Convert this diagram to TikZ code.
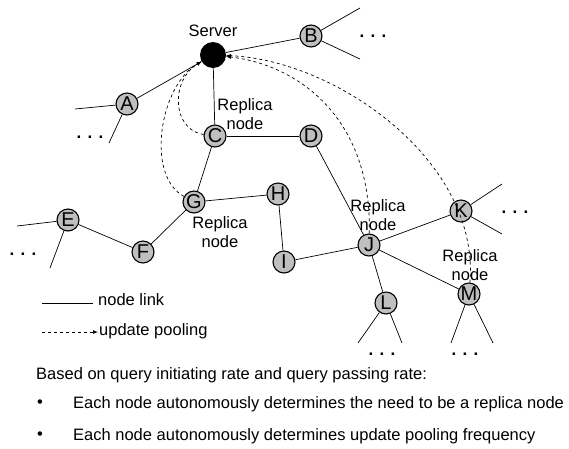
\documentclass[tikz,border=0pt]{standalone}
\usepackage{fontspec}
\setmainfont{Liberation Sans}
\begin{document}
\begin{tikzpicture}[x=1pt, y=-1pt,
    every node/.style={inner sep=0pt},
    peer/.style={circle, draw, fill=black!25, line width=1.1pt, minimum size=22pt, font=\fontsize{20}{20}\selectfont},
    lbl/.style={align=center, font=\fontsize{16.5}{19}\selectfont},
    more/.style={font=\fontsize{17}{17}\selectfont\bfseries},
    link/.style={line width=0.7pt},
    pool/.style={dashed, line width=0.7pt, -latex}]
    \useasboundingbox (0,0) rectangle (569,448);

    \node [circle, fill=black, minimum size=26pt] (srv) at (213,55) {};
    \node [lbl] (srvlbl) at (213,31) {Server};

    \node [peer] (A) at (127,104) {A};
    \node [peer] (B) at (311,36) {B};
    \node [peer] (C) at (215,136) {C};
    \node [peer] (D) at (311,136) {D};
    \node [peer] (E) at (68,220) {E};
    \node [peer] (F) at (143,252) {F};
    \node [peer] (G) at (194,202) {G};
    \node [peer] (H) at (278,194) {H};
    \node [peer] (I) at (284,262) {I};
    \node [peer] (J) at (369,245) {J};
    \node [peer] (K) at (461,211) {K};
    \node [peer] (L) at (386,303) {L};
    \node [peer] (M) at (469,294) {M};

    \node [lbl] (repC) at (245,114) {Replica\\node};
    \node [lbl] (repG) at (220,232) {Replica\\node};
    \node [lbl] (repJ) at (378,215) {Replica\\node};
    \node [lbl] (repM) at (470,265) {Replica\\node};

    \node [more] (dA) at (90,137) {. . .};
    \node [more] (dB) at (373,36) {. . .};
    \node [more] (dE) at (23,254) {. . .};
    \node [more] (dK) at (515,212) {. . .};
    \node [more] (dL) at (382,354) {. . .};
    \node [more] (dM) at (465,354) {. . .};

    \coordinate (a1) at (75,109);
    \coordinate (a2) at (109,143);
    \coordinate (b1) at (360,8);
    \coordinate (b2) at (360,59);
    \coordinate (e1) at (17,226);
    \coordinate (e2) at (50,268);
    \coordinate (k1) at (502,184);
    \coordinate (k2) at (502,234);
    \coordinate (l1) at (358,343);
    \coordinate (l2) at (402,343);
    \coordinate (m1) at (451,343);
    \coordinate (m2) at (493,343);

    \draw [link] (srv) -- (A);
    \draw [link] (srv) -- (B);
    \draw [link] (srv) -- (C);
    \draw [link] (C) -- (D);
    \draw [link] (C) -- (G);
    \draw [link] (G) -- (H);
    \draw [link] (G) -- (F);
    \draw [link] (F) -- (E);
    \draw [link] (H) -- (I);
    \draw [link] (I) -- (J);
    \draw [link] (D) -- (J);
    \draw [link] (J) -- (K);
    \draw [link] (J) -- (M);
    \draw [link] (J) -- (L);
    \draw [link] (A) -- (a1);
    \draw [link] (A) -- (a2);
    \draw [link] (B) -- (b1);
    \draw [link] (B) -- (b2);
    \draw [link] (E) -- (e1);
    \draw [link] (E) -- (e2);
    \draw [link] (K) -- (k1);
    \draw [link] (K) -- (k2);
    \draw [link] (L) -- (l1);
    \draw [link] (L) -- (l2);
    \draw [link] (M) -- (m1);
    \draw [link] (M) -- (m2);

    \draw [pool] (C) .. controls (172,130) and (170,80) .. (srv);
    \draw [pool] (G) .. controls (145,175) and (160,85) .. (srv);
    \draw [pool] (J) .. controls (372,120) and (300,65) .. (srv);
    \draw [pool] (M) .. controls (480,160) and (335,60) .. (srv);

    \coordinate (lg1) at (42,303);
    \coordinate (lg2) at (42,332);
    \node [lbl, anchor=west] (lglink) at (98,300) {node link};
    \node [lbl, anchor=west] (lgpool) at (99,331) {update pooling};
    \draw [link] (lg1) -- ([xshift=-5pt]lg1 -| lglink.west);
    \draw [pool] (lg2) -- ([xshift=-1pt]lg2 -| lgpool.west);

    \node [lbl, anchor=west] (txt) at (36,375) {Based on query initiating rate and query passing rate:};
    \node [lbl] (bul1) at (40,404) {•};
    \node [lbl, anchor=west] (txt1) at (73,404) {Each node autonomously determines the need to be a replica node};
    \node [lbl] (bul2) at (40,436) {•};
    \node [lbl, anchor=west] (txt2) at (73,436) {Each node autonomously determines update pooling frequency};
\end{tikzpicture}
\end{document}
